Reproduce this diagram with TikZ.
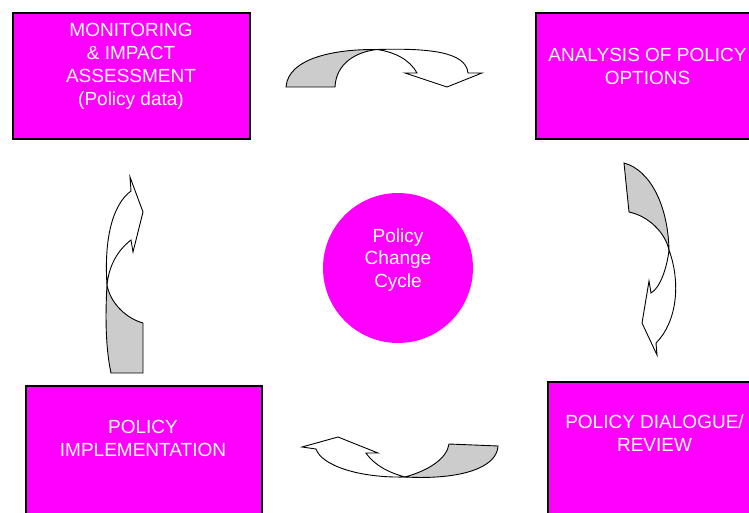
\documentclass[tikz,border=0pt]{standalone}
\usepackage{fontspec}
\setmainfont{Liberation Sans}
\usepackage{xcolor}
\usepackage{tikz}
\definecolor{stagemagenta}{RGB}{255,0,255}
\definecolor{ribbongray}{RGB}{204,204,204}

\begin{document}
\begin{tikzpicture}[x=1pt,y=-1pt,
  stage/.style   ={draw=black,line width=1.6pt,fill=stagemagenta,anchor=north west,
                   inner sep=0pt},
  stagetext/.style={text=white,font=\fontsize{19}{22.8}\selectfont,align=center},
  back/.style    ={draw=black,line width=0.9pt,fill=ribbongray},
  front/.style   ={draw=black,line width=0.9pt,fill=white},
]
\useasboundingbox (0,0) rectangle (749,513);
\clip (0,0) rectangle (749,513);

\node[stage,minimum width=237pt,minimum height=126pt] (monitor)  at (12,12)   {};
\node[stage,minimum width=240pt,minimum height=126pt] (analysis) at (535,12)  {};
\node[stage,minimum width=236pt,minimum height=150pt] (implement) at (25,385) {};
\node[stage,minimum width=230pt,minimum height=150pt] (dialogue) at (547,381) {};
\node[circle,fill=stagemagenta,minimum size=150pt,inner sep=0pt] (cycle) at (398,268) {};

\node[stagetext] (monitortext)   at (131,66.5)  {MONITORING\\ \& IMPACT\\ ASSESSMENT\\ (Policy data)};
\node[stagetext] (analysistext)  at (647.5,66.5) {ANALYSIS OF POLICY\\ OPTIONS};
\node[stagetext] (implementtext) at (143,438.5) {POLICY\\ IMPLEMENTATION};
\node[stagetext] (dialoguetext)  at (654.5,433.5) {POLICY DIALOGUE/\\ REVIEW};
\node[stagetext] (cycletext)     at (398,260)   {Policy\\ Change\\ Cycle};

\draw[back]  (286,87) -- (335,87) .. controls (336,64) and (355,52) .. (377,49.5)
             .. controls (335,49) and (288,58) .. (286,87) -- cycle;
\draw[front] (377,49.5) .. controls (430,48) and (466,52) .. (468,73) -- (482,73) -- (447,87)
             -- (405,73) -- (417,73) .. controls (410,60) and (395,52) .. (377,49.5) -- cycle;

\draw[back]  (624,163) -- (629,212) .. controls (648,216) and (665,232) .. (669,250)
             .. controls (668,205) and (650,170) .. (624,163) -- cycle;
\draw[front] (669,250) .. controls (681,283) and (677,322) .. (656,343) -- (657,355) -- (642,323)
             -- (649,281) -- (651,293) .. controls (660,288) and (667,268) .. (669,250) -- cycle;

\draw[back]  (405,477) .. controls (430,470) and (447,458) .. (449,444) -- (498,446)
             .. controls (497,468) and (460,480) .. (405,477) -- cycle;
\draw[front] (405,477) .. controls (360,478) and (322,466) .. (316,449) -- (302,447) -- (338,437)
             -- (378,453) -- (366,453) .. controls (375,466) and (390,473) .. (405,477) -- cycle;

\draw[back]  (107,285) .. controls (105,320) and (106,350) .. (111,373) -- (143,373) -- (143,323)
             .. controls (125,318) and (110,302) .. (107,285) -- cycle;
\draw[front] (107,285) .. controls (104,240) and (112,205) .. (131,191) -- (130,177) -- (143,212)
             -- (133,252) -- (131,240) .. controls (118,250) and (109,265) .. (107,285) -- cycle;
\end{tikzpicture}
\end{document}
